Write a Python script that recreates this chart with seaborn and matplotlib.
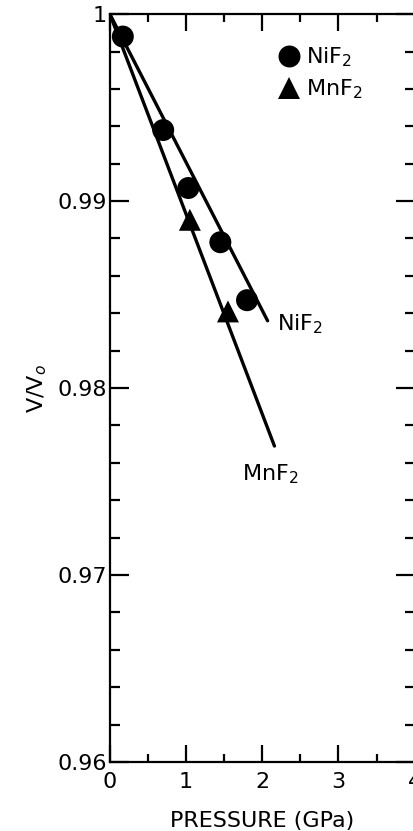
import numpy as np
import pandas as pd
import matplotlib
matplotlib.use('Agg')
import matplotlib.pyplot as plt
import seaborn as sns
from matplotlib.ticker import MultipleLocator

# data
nif2_p = [0.17, 0.70, 1.03, 1.45, 1.80]
nif2_v = [0.9988, 0.9938, 0.9907, 0.9878, 0.9847]
mnf2_p = [1.05, 1.55]
mnf2_v = [0.9890, 0.9841]

# fitted lines (end points)
nif2_fit_p = [0.0, 2.07]
nif2_fit_v = [1.0, 0.9836]
mnf2_fit_p = [0.0, 2.16]
mnf2_fit_v = [1.0, 0.9769]

yticks = [0.96, 0.97, 0.98, 0.99, 1.0]
ytick_labels = ['0.96', '0.97', '0.98', '0.99', '1']
xticks = [0, 1, 2, 3, 4]

sns.set_style('ticks')
plt.rcParams['font.family'] = ['DejaVu Sans']
plt.rcParams['text.color'] = 'black'
plt.rcParams['axes.labelcolor'] = 'black'

fig = plt.figure(figsize=(4.13, 8.31), dpi=100)
ax = fig.add_axes([0.266, 0.083, 0.738, 0.900])

pts = pd.concat([
    pd.DataFrame({'p': nif2_p, 'v': nif2_v, 'mat': 'NiF$_2$'}),
    pd.DataFrame({'p': mnf2_p, 'v': mnf2_v, 'mat': 'MnF$_2$'}),
])

sns.lineplot(x=nif2_fit_p, y=nif2_fit_v, color='black', lw=2.4, ax=ax)
sns.lineplot(x=mnf2_fit_p, y=mnf2_fit_v, color='black', lw=2.4, ax=ax)
sns.scatterplot(data=pts, x='p', y='v', style='mat', markers={'NiF$_2$': 'o', 'MnF$_2$': '^'},
                color='black', s=250, edgecolor='black', linewidth=0, ax=ax, zorder=3)

ax.set_xlim(0, 4)
ax.set_ylim(0.96, 1.0)
ax.set_xticks(xticks)
ax.set_xticklabels([str(t) for t in xticks], fontsize=16)
ax.xaxis.set_minor_locator(MultipleLocator(0.5))
ax.set_yticks(yticks)
ax.set_yticklabels(ytick_labels, fontsize=16)
ax.yaxis.set_minor_locator(MultipleLocator(0.002))

ax.tick_params(which='both', direction='in', top=True, right=True, width=1.6, colors='black')
ax.tick_params(which='major', axis='y', length=14, pad=2)
ax.tick_params(which='minor', axis='y', length=7)
ax.tick_params(which='major', axis='x', length=12, pad=7)
ax.tick_params(which='minor', axis='x', length=6)
for s in ax.spines.values():
    s.set_linewidth(1.6)
    s.set_color('black')

ax.set_xlabel('PRESSURE (GPa)', fontsize=16, labelpad=14)
ax.set_ylabel('V/V$_o$', fontsize=16, labelpad=6)

ax.text(2.2, 0.9834, 'NiF$_2$', fontsize=16, ha='left', va='center')
ax.text(2.1, 0.9754, 'MnF$_2$', fontsize=16, ha='center', va='center')

ax.legend(loc='upper left', bbox_to_anchor=(0.486, 0.985), frameon=False, fontsize=16,
          handlelength=1.0, handletextpad=0.25, labelspacing=0.4, markerscale=1.0, title=None)

fig.savefig('out.png', dpi=100)
